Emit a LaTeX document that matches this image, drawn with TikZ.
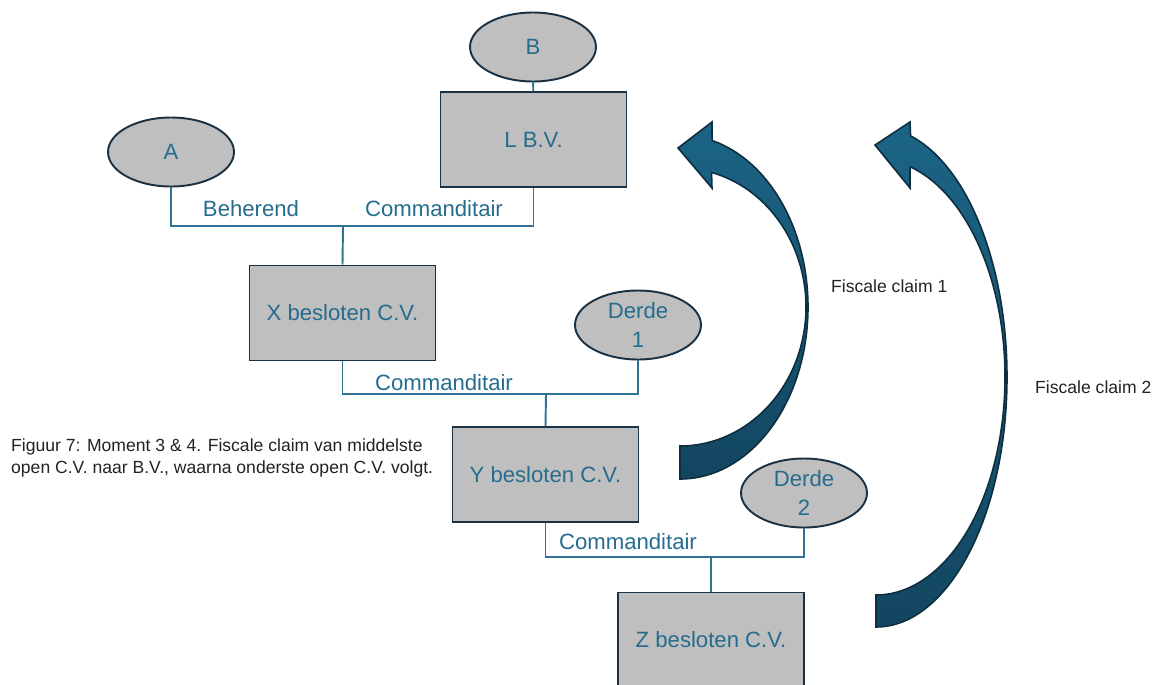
\documentclass[tikz,border=0pt]{standalone}
\usepackage{fontspec}
\setmainfont{Liberation Sans}
\usepackage{tikz}
\usetikzlibrary{shapes.geometric}
\definecolor{cvgray}{RGB}{191,191,191}
\definecolor{cvedge}{RGB}{26,50,68}
\definecolor{cvtext}{RGB}{38,108,142}
\definecolor{cvline}{RGB}{46,115,150}
\definecolor{claimtop}{RGB}{27,100,133}
\definecolor{claimbot}{RGB}{19,70,96}
\definecolor{claimedge}{RGB}{14,46,64}
\definecolor{captext}{RGB}{34,34,34}

\begin{document}
\begin{tikzpicture}[
  x=0.02cm, y=-0.02cm,
  ent/.style={ellipse, draw=cvedge, line width=1.1pt, fill=cvgray,
              minimum width=2.52cm, minimum height=1.38cm, inner sep=0pt,
              text=cvtext, font=\fontsize{12.6}{17}\selectfont, align=center},
  cvbox/.style={rectangle, draw=cvedge, line width=1.1pt, fill=cvgray,
                minimum width=3.72cm, minimum height=1.9cm,
                text=cvtext, font=\fontsize{12.6}{15}\selectfont},
  link/.style={draw=cvline, line width=1.1pt},
  lbl/.style={text=cvtext, font=\fontsize{12.6}{15}\selectfont},
  note/.style={text=captext, font=\fontsize{10}{13}\selectfont, align=left},
  claimarr/.style={draw=claimedge, line width=0.9pt,
                   top color=claimtop, bottom color=claimbot}
]
\useasboundingbox (0,0) rectangle (1161,684);

%% -- shareholders and L B.V. --
\node[ent]   (entB) at (533,47)    {B};
\node[cvbox] (lbv)  at (533.5,139.5) {L B.V.};
\node[ent]   (entA) at (171,152)   {A};

%% -- C.V. chain --
\node[cvbox] (xcv)    at (342.5,313)   {X besloten C.V.};
\node[ent]   (derde1) at (638,325)     {Derde\\1};
\node[cvbox] (ycv)    at (545.5,474.5) {Y besloten C.V.};
\node[ent]   (derde2) at (804,493)     {Derde\\2};
\node[cvbox] (zcv)    at (711,640)     {Z besloten C.V.};

%% -- connectors --
\coordinate (busX) at (343,226);
\coordinate (busY) at (546,394);
\coordinate (busZ) at (711,557);

\draw[link] (entB) -- (lbv);
\draw[link] (entA.south) |- (busX) -| (lbv.south);
\draw[link] (busX) -- (xcv.north);
\draw[link] (xcv.south) |- (busY) -| (derde1.south);
\draw[link] (busY) -- (ycv.north);
\draw[link] (ycv.south) |- (busZ) -| (derde2.south);
\draw[link] (busZ) -- (zcv.north);

\node[lbl] (beh)   at (251,209) {Beherend};
\node[lbl] (comL)  at (434,209) {Commanditair};
\node[lbl] (comX)  at (444,383) {Commanditair};
\node[lbl] (comY)  at (628,542) {Commanditair};

%% -- fiscal claims --
\draw[claimarr] (680,307) ++(-75.5:126 and 139)
  arc[start angle=-75.5, end angle=90, x radius=126, y radius=139]
  -- ++(0,33)
  arc[start angle=90, end angle=-75.5, x radius=128, y radius=172]
  -- (712,122) -- (678,148) -- (712,188) -- cycle;
\draw[claimarr] (876,377) ++(-74.7:129 and 218)
  arc[start angle=-74.7, end angle=90, x radius=129, y radius=218]
  -- ++(0,32)
  arc[start angle=90, end angle=-74.7, x radius=131, y radius=250]
  -- (910,122) -- (875,145) -- (910,188) -- cycle;

\node[note, anchor=west] (claim1) at (825,286) {Fiscale claim 1};
\node[note, anchor=west] (claim2) at (1029,387) {Fiscale claim 2};

\node[note, anchor=west] (caption) at (5,458)
  {Figuur 7: Moment 3 \& 4. Fiscale claim van middelste\\
   open C.V. naar B.V., waarna onderste open C.V. volgt.};

\end{tikzpicture}
\end{document}
